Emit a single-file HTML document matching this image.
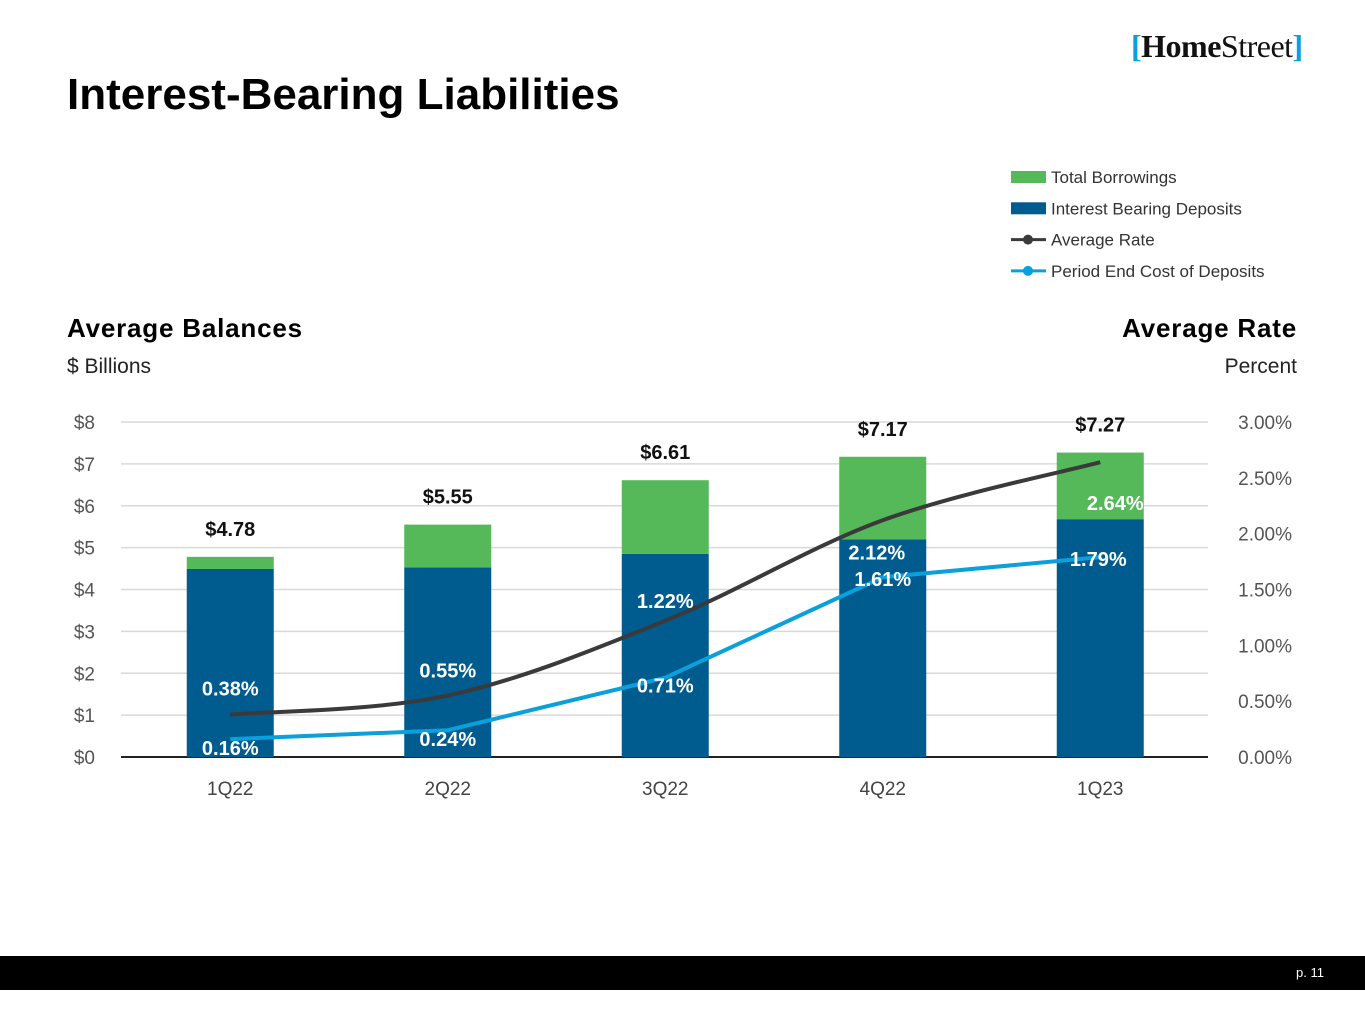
<!DOCTYPE html>
<html><head><meta charset="utf-8"><style>
body{margin:0;width:1365px;height:1024px;background:#fff;font-family:"Liberation Sans",sans-serif;position:relative;overflow:hidden}
.abs{position:absolute}
</style></head><body>
<div class="abs" style="left:67px;top:70px;font-size:44px;font-weight:bold;color:#000">Interest-Bearing Liabilities</div>
<div class="abs" style="left:1131px;top:28px;font-family:'Liberation Serif',serif;font-size:32px;color:#111;letter-spacing:-0.5px"><span style="color:#0aa0e0;font-weight:bold">[</span><b>Home</b>Street<span style="color:#0aa0e0;font-weight:bold">]</span></div>
<div class="abs" style="left:67px;top:313px;font-size:26px;font-weight:bold;letter-spacing:0.8px">Average Balances</div>
<div class="abs" style="left:67px;top:355px;font-size:21px;color:#222">$ Billions</div>
<div class="abs" style="right:68px;top:313px;font-size:26px;font-weight:bold;letter-spacing:0.8px">Average Rate</div>
<div class="abs" style="right:68px;top:355px;font-size:21px;color:#222">Percent</div>
<div class="abs" style="left:0;top:956px;width:1365px;height:34px;background:#000"></div>
<div class="abs" style="left:1296px;top:965px;font-size:13px;color:#fff">p. 11</div>
<svg class="abs" style="left:0;top:0" width="1365" height="1024" id="chart"></svg>
<script>
const categories=["1Q22","2Q22","3Q22","4Q22","1Q23"];
const deposits=[4.49,4.53,4.85,5.20,5.68];
const borrowings=[0.29,1.02,1.76,1.97,1.59];
const totals=["$4.78","$5.55","$6.61","$7.17","$7.27"];
const avgRate=[0.38,0.55,1.22,2.12,2.64];
const costDeposits=[0.16,0.24,0.71,1.61,1.79];
const leftTicks=[0,1,2,3,4,5,6,7,8];
const rightTicks=[0,0.5,1,1.5,2,2.5,3];
const NS="http://www.w3.org/2000/svg";
const svg=document.getElementById('chart');
const x0=121.5,bw=217.5,bwid=87;
const xc=i=>x0+bw*(i+0.5);
const yL=v=>757-v*41.875;
const yR=v=>757-v*111.67;
function mk(t,a,txt){const e=document.createElementNS(NS,t);for(const k in a)e.setAttribute(k,a[k]);if(txt!=null)e.textContent=txt;svg.appendChild(e);return e;}
leftTicks.forEach(v=>{
 const l=mk('line',{x1:121,x2:1208,y1:yL(v),y2:yL(v),stroke:v?'#d9d9d9':'#222','stroke-width':v?1.5:2});
 
 
 const t=mk('text',{x:95,y:yL(v)+7,'text-anchor':'end','font-size':19,fill:'#555'},'$'+v);
 
 
});
rightTicks.forEach(v=>{
 const t=mk('text',{x:1292,y:yR(v)+7,'text-anchor':'end','font-size':19,fill:'#555'},v.toFixed(2)+'%');
 
 
});
categories.forEach((c,i)=>{
 const x=xc(i)-bwid/2;
 const b1=mk('rect',{x:x,y:yL(deposits[i]),width:bwid,height:yL(0)-yL(deposits[i]),fill:'#005b8f'});
 
 
 const tot=deposits[i]+borrowings[i];
 const b2=mk('rect',{x:x,y:yL(tot),width:bwid,height:yL(deposits[i])-yL(tot),fill:'#55b95a'});
 
 
 const tl=mk('text',{x:xc(i),y:yL(tot)-21,'text-anchor':'middle','font-size':20,'font-weight':'bold',fill:'#111'},totals[i]);
 
 
 const cl=mk('text',{x:xc(i),y:795,'text-anchor':'middle','font-size':19,fill:'#444'},c);
 
 
});
const pa=avgRate.map((v,i)=>[xc(i),yR(v)]);
let d='M'+pa[0][0]+','+pa[0][1];
for(let i=0;i<pa.length-1;i++){const p0=pa[Math.max(i-1,0)],p1=pa[i],p2=pa[i+1],p3=pa[Math.min(i+2,pa.length-1)];
 d+=` C${p1[0]+(p2[0]-p0[0])/6},${p1[1]+(p2[1]-p0[1])/6} ${p2[0]-(p3[0]-p1[0])/6},${p2[1]-(p3[1]-p1[1])/6} ${p2[0]},${p2[1]}`;}
const la=mk('path',{d:d,fill:'none',stroke:'#3a3a3a','stroke-width':4});


const lc=mk('polyline',{points:costDeposits.map((v,i)=>xc(i)+','+yR(v)).join(' '),fill:'none',stroke:'#0aa0dc','stroke-width':4});


const aOff=[[0,-19],[0,-18],[0,-13],[-6,39],[15,48]];
const cOff=[[0,34],[0,34],[0,33],[0,27],[-2,27]];
avgRate.forEach((v,i)=>{
 const t=mk('text',{x:xc(i)+aOff[i][0],y:yR(v)+aOff[i][1],'text-anchor':'middle','font-size':20,'font-weight':'bold',fill:'#fff'},v.toFixed(2)+'%');
 
 
});
costDeposits.forEach((v,i)=>{
 const t=mk('text',{x:xc(i)+cOff[i][0],y:yR(v)+cOff[i][1]-18,'text-anchor':'middle','font-size':20,'font-weight':'bold',fill:'#fff'},v.toFixed(2)+'%');
 
 
});
const leg=[["Total Borrowings","rect","#55b95a"],["Interest Bearing Deposits","rect","#005b8f"],["Average Rate","line","#3a3a3a"],["Period End Cost of Deposits","line","#0aa0dc"]];
leg.forEach((l,i)=>{
 const y=177+i*31.3;
 if(l[1]=="rect"){const r=mk('rect',{x:1011,y:y-6,width:35,height:12,fill:l[2]});}
 else{mk('line',{x1:1011,x2:1046,y1:y,y2:y,stroke:l[2],'stroke-width':3});const c=mk('circle',{cx:1028,cy:y,r:5,fill:l[2]});}
 const t=mk('text',{x:1051,y:y+6,'font-size':17,fill:'#333'},l[0]);
 
 
});
</script>
</body></html>
